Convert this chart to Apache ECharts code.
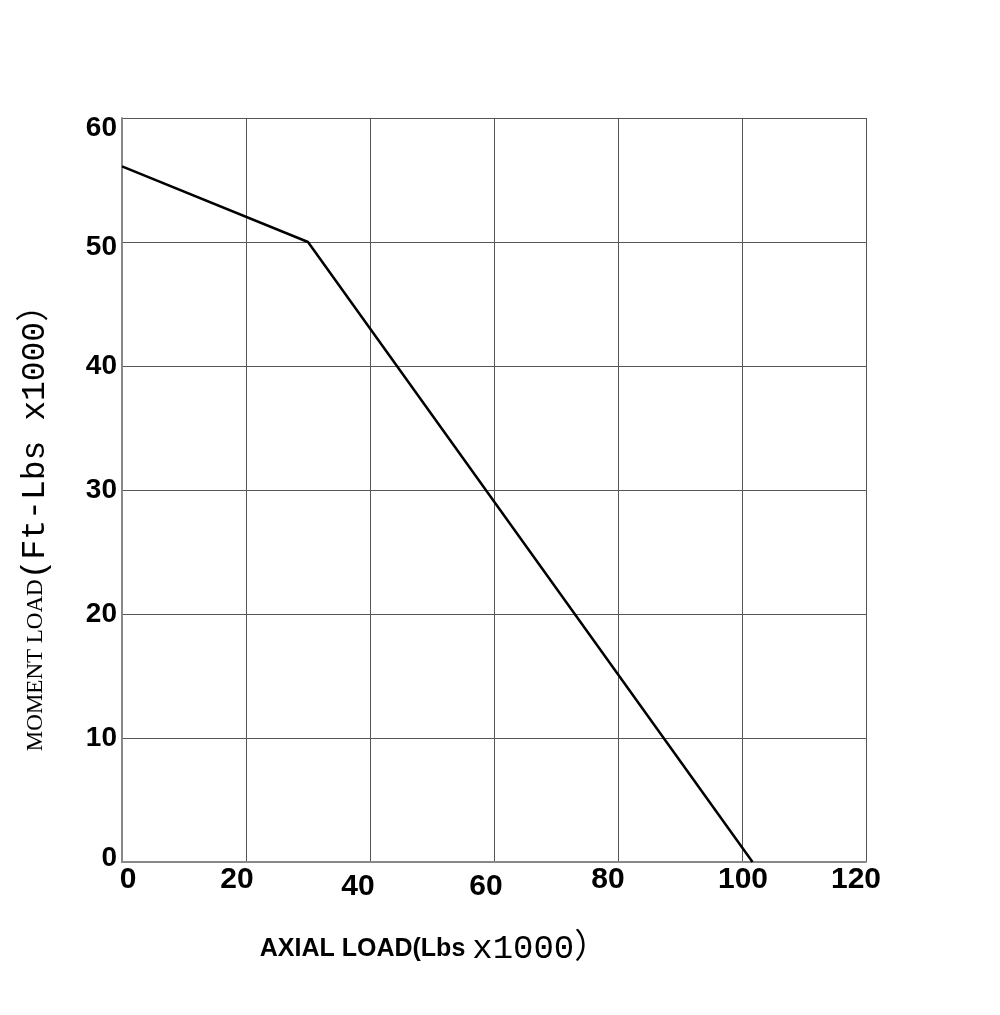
<!DOCTYPE html>
<html>
<head>
<meta charset="utf-8">
<script src="https://cdn.jsdelivr.net/npm/echarts@6/dist/echarts.min.js"></script>
<style>html,body{margin:0;padding:0;background:#fff;}#c{width:1000px;height:1015px;}</style>
</head>
<body>
<div id="c"></div>
<script>
// ---- data ----
const axialLoad = [0, 30, 101.7];      // x (Lbs x1000)
const momentLoad = [56.1, 50, 0];      // y (Ft-Lbs x1000)
const xTickLabels = ['0', '20', '40', '60', '80', '100', '120'];
const yTickLabels = ['0', '10', '20', '30', '40', '50', '60'];
const xTitleMain = 'AXIAL LOAD(Lbs ';
const xTitleUnit = 'x1000）';
const yTitleMain = 'MOMENT LOAD';
const yTitleUnit = '(Ft-Lbs x1000）';

// ---- styles ----
const NARROW = "'Liberation Sans Narrow', 'Liberation Sans', Arial, sans-serif";
const MONO = "'Liberation Mono', 'Noto Sans CJK SC', monospace";
const SERIF = "'Liberation Serif', serif";
// per-label nudges (padding) reproducing the hand-placed labels of the original
const xLabelPad = [[0,0,0,12],[0,18,0,0],[7,24,0,0],[7,16,0,0],[0,20,0,0],[0,0,0,2],[0,20,0,0]];
const yLabelPad = [[0,0,8,0],[0,0,0,0],[0,0,0,0],[0,0,0,0],[0,0,0,0],[10,0,0,0],[20,0,0,0]];

const xRich = {}, yRich = {};
xLabelPad.forEach((p, i) => { xRich['x' + i] = { fontFamily: NARROW, fontWeight: 'bold', fontSize: 30, color: '#000', padding: p }; });
yLabelPad.forEach((p, i) => { yRich['y' + i] = { fontFamily: NARROW, fontWeight: 'bold', fontSize: 28, color: '#000', padding: p }; });

const chart = echarts.init(document.getElementById('c'), null, { renderer: 'canvas' });
chart.setOption({
  backgroundColor: '#fff',
  animation: false,
  grid: { left: 122, right: 134, top: 118, bottom: 153, containLabel: false },
  xAxis: {
    type: 'value', min: 0, max: 120, interval: 20,
    axisLine: { show: true, lineStyle: { color: '#888', width: 2 } },
    axisTick: { show: false },
    splitLine: { show: true, lineStyle: { color: '#555', width: 1 } },
    axisLabel: {
      margin: 3,
      formatter: (v) => { const i = xTickLabels.indexOf(String(v)); return i < 0 ? '' : '{x' + i + '|' + xTickLabels[i] + '}'; },
      rich: xRich
    },
    name: '{a|' + xTitleMain + '}{b|' + xTitleUnit + '}',
    nameLocation: 'middle',
    nameGap: 70,
    nameTextStyle: {
      padding: [0, 120, 0, 0],
      rich: {
        a: { fontFamily: NARROW, fontWeight: 'bold', fontSize: 25, color: '#000' },
        b: { fontFamily: MONO, fontSize: 34, color: '#000' }
      }
    }
  },
  yAxis: {
    type: 'value', min: 0, max: 60, interval: 10,
    axisLine: { show: true, lineStyle: { color: '#888', width: 2 } },
    axisTick: { show: false },
    splitLine: { show: true, lineStyle: { color: '#555', width: 1 } },
    axisLabel: {
      margin: 5,
      formatter: (v) => { const i = yTickLabels.indexOf(String(v)); return i < 0 ? '' : '{y' + i + '|' + yTickLabels[i] + '}'; },
      rich: yRich
    },
    name: '{a|' + yTitleMain + '}{b|' + yTitleUnit + '}',
    nameLocation: 'middle',
    nameRotate: 90,
    nameGap: 70,
    nameTextStyle: {
      padding: [0, 60, 0, 0],
      rich: {
        a: { fontFamily: SERIF, fontSize: 23, color: '#000' },
        b: { fontFamily: MONO, fontSize: 33, color: '#000' }
      }
    }
  },
  series: [{
    type: 'line',
    data: axialLoad.map((x, i) => [x, momentLoad[i]]),
    symbol: 'none',
    lineStyle: { color: '#000', width: 2.5 },
    z: 5
  }]
});
</script>
</body>
</html>
